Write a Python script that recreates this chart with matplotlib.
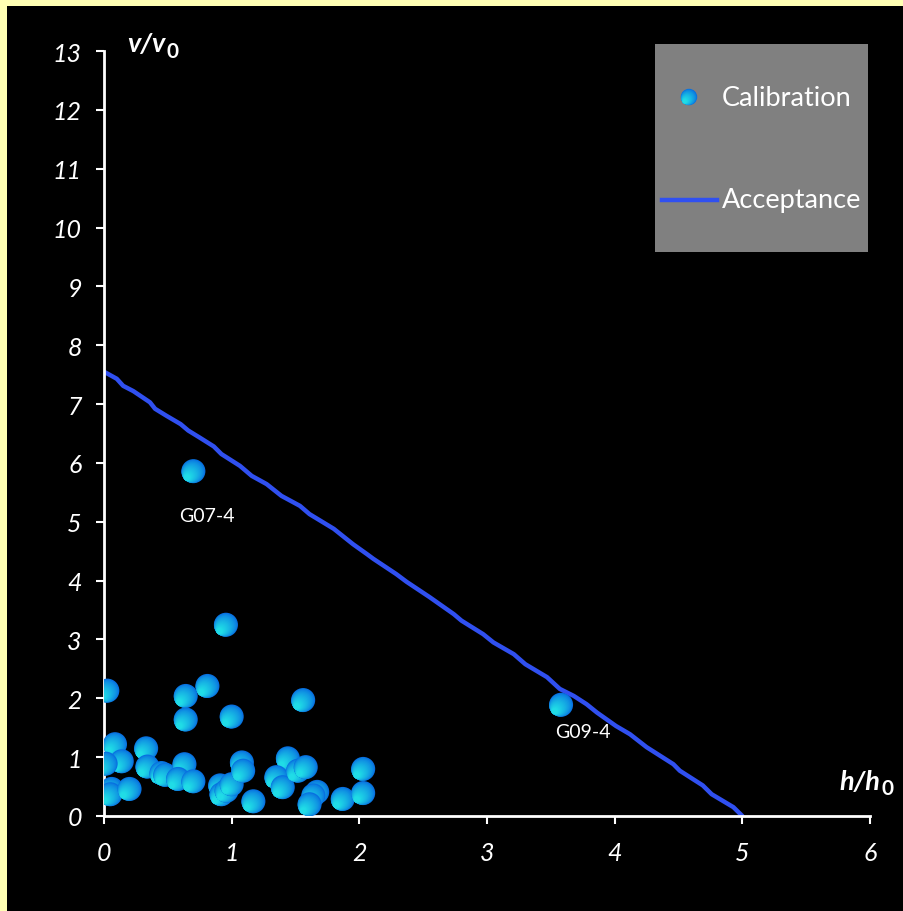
import matplotlib
matplotlib.use("Agg")
import matplotlib.pyplot as plt
from matplotlib.patches import Rectangle
from matplotlib.colors import to_rgb
import numpy as np

plt.rcParams['font.family'] = ['Lato', 'DejaVu Sans']

# calibration points (h/h0, v/v0)
h_cal = [0.70, 0.955, 3.58, 0.026, 0.64, 0.81, 0.64, 1.00, 1.56, 0.086,
         0.139, 0.013, 0.33, 0.34, 0.45, 0.48, 0.63, 0.58, 0.70, 0.06,
         0.05, 0.20, 0.91, 0.92, 0.96, 1.00, 1.08, 1.09, 1.17, 1.44,
         1.35, 1.40, 1.52, 1.58, 1.67, 1.64, 1.61, 1.87, 2.03, 2.03]
v_cal = [5.86, 3.25, 1.89, 2.13, 2.04, 2.21, 1.64, 1.69, 1.97, 1.22,
         0.93, 0.89, 1.15, 0.84, 0.73, 0.70, 0.88, 0.63, 0.59, 0.46,
         0.37, 0.46, 0.52, 0.37, 0.43, 0.54, 0.91, 0.77, 0.25, 0.98,
         0.66, 0.49, 0.77, 0.83, 0.41, 0.35, 0.20, 0.29, 0.80, 0.39]
cal_names = {0: "G07-4", 2: "G09-4"}
name_offsets = {0: (10, -32), 2: (16, -19)}

# acceptance limit
h_acc = [0.0, 0.10, 0.15, 0.23, 0.36, 0.40, 0.49, 0.60, 0.66, 0.75, 0.86, 0.92,
         1.065, 1.157, 1.274, 1.39, 1.535, 1.61, 1.80, 1.95, 2.06, 2.11, 2.29,
         2.37, 2.55, 2.74, 2.80, 2.97, 3.05, 3.21, 3.30, 3.47, 3.57, 3.68, 3.78,
         3.86, 4.01, 4.12, 4.25, 4.46, 4.51, 4.69, 4.76, 4.93, 5.0]
v_acc = [7.55, 7.43, 7.31, 7.22, 7.03, 6.92, 6.80, 6.66, 6.55, 6.43, 6.28, 6.15,
         5.95, 5.78, 5.64, 5.44, 5.27, 5.13, 4.88, 4.62, 4.45, 4.37, 4.11,
         3.98, 3.72, 3.43, 3.32, 3.09, 2.95, 2.75, 2.58, 2.36, 2.16, 2.04, 1.90,
         1.76, 1.53, 1.39, 1.17, 0.88, 0.77, 0.52, 0.37, 0.15, 0.0]

fig = plt.figure(figsize=(9.04, 9.12), dpi=100, facecolor="#ffffb4")
fig.patches.append(Rectangle((7 / 904, 0), 1, 1 - 7 / 912, transform=fig.transFigure,
                             facecolor="black", edgecolor="none", zorder=-5))
ax = fig.add_axes([104 / 904, 1 - 817 / 912, 766 / 904, 765 / 912])
ax.set_facecolor("none")
ax.set_zorder(1)

blue = np.array(to_rgb("#0870e0"))
cyan = np.array(to_rgb("#20dce6"))


def ball(axis, x, y, size, z):
    # shaded marker: nested circles pulled toward the lower-left edge
    n = 14
    r0 = np.sqrt(size) / 2
    for k in range(n):
        r = r0 * (1 - 0.8 * k / n)
        d = (r0 - r) / np.sqrt(2)
        c = blue + (cyan - blue) * (k / (n - 1)) ** 0.7
        shift = matplotlib.transforms.ScaledTranslation(-d / 72, -d / 72, fig.dpi_scale_trans)
        axis.scatter([x], [y], s=(2 * r) ** 2, color=c, edgecolors="none", zorder=z,
                     transform=axis.transData + shift)


ax.plot(h_acc, v_acc, color="#3050f0", lw=3.2, solid_capstyle="round", zorder=2)

for i, (x, y) in enumerate(zip(h_cal, v_cal)):
    ball(ax, x, y, 300, 3 + i * 0.01)

for i, name in cal_names.items():
    ax.annotate(name, (h_cal[i], v_cal[i]), xytext=name_offsets[i], textcoords="offset points",
                ha="center", va="center", color="white", fontsize=14)

ax.set_xlim(0, 6)
ax.set_ylim(0, 13)
ax.set_xticks(range(0, 7))
ax.set_yticks(range(0, 14))
for s in ["top", "right"]:
    ax.spines[s].set_visible(False)
for s in ["left", "bottom"]:
    ax.spines[s].set_color("white")
    ax.spines[s].set_linewidth(2)
ax.tick_params(colors="white", length=6, width=1.5, labelsize=18)
ax.tick_params(axis="x", pad=12)
ax.tick_params(axis="y", pad=10)
for lab in ax.get_xticklabels() + ax.get_yticklabels():
    lab.set_fontstyle("italic")

# axis captions
t1 = ax.text(0.18, 13.0, "v/v", color="white", fontsize=19.5, fontweight="bold",
             fontstyle="italic", ha="left", va="baseline")
ax.annotate("0", xy=(1, 0), xycoords=t1, xytext=(1, -4), textcoords="offset points",
            color="white", fontsize=15, fontweight="bold", ha="left", va="bottom")
t2 = ax.text(5.76, 0.46, "h/h", color="white", fontsize=19.5, fontweight="bold",
             fontstyle="italic", ha="left", va="baseline")
ax.annotate("0", xy=(1, 0), xycoords=t2, xytext=(1, -4), textcoords="offset points",
            color="white", fontsize=15, fontweight="bold", ha="left", va="bottom")

# legend panel
lx0, ly0 = 655 / 904, 1 - 253 / 912
fig.patches.append(Rectangle((lx0, ly0), 213 / 904, 208 / 912, transform=fig.transFigure,
                             facecolor="#808080", edgecolor="none", zorder=5))
lax = fig.add_axes([0, 0, 1, 1], zorder=6)
lax.set_axis_off()
lax.set_xlim(0, 904)
lax.set_ylim(912, 0)
ball(lax, 689, 98, 140, 6)
lax.plot([662, 717], [201, 201], color="#3050f0", lw=3.2, zorder=6)
lax.text(722, 98, "Calibration", color="white", fontsize=19.5, ha="left", va="center")
lax.text(722, 201, "Acceptance", color="white", fontsize=19.5, ha="left", va="center")

fig.savefig("out.png", dpi=100, facecolor=fig.get_facecolor())
